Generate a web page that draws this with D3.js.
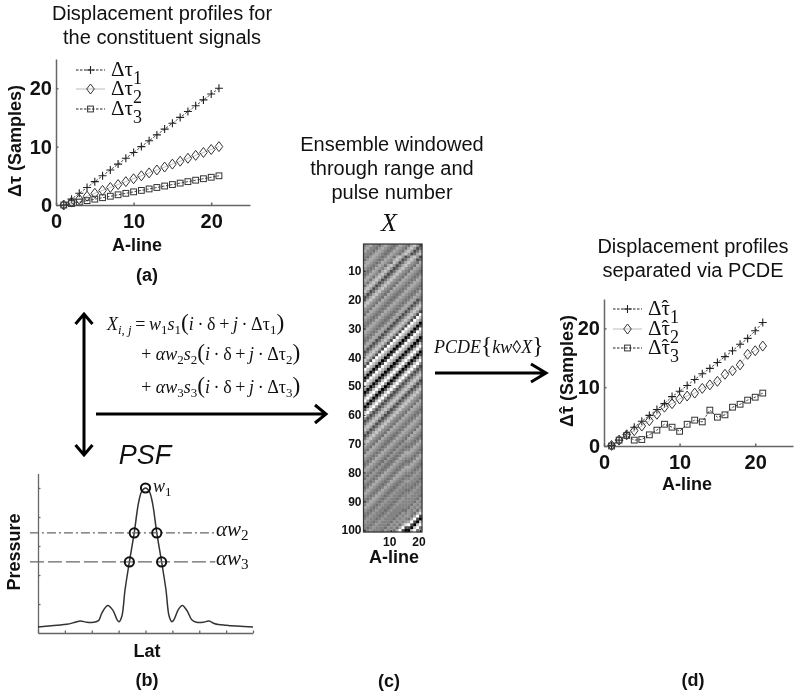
<!DOCTYPE html>
<html><head><meta charset="utf-8">
<style>html,body{margin:0;background:#fff}svg{display:block;filter:blur(.5px)}text{fill:#111}</style>
<script src="https://cdn.jsdelivr.net/npm/d3@7"></script></head><body>
<svg id="c" width="800" height="696"><defs><filter id="soft" x="-5%" y="-5%" width="110%" height="110%"><feGaussianBlur stdDeviation="0.45"/></filter></defs></svg>
<script>
// ---- data ----
const aLines=[1,2,3,4,5,6,7,8,9,10,11,12,13,14,15,16,17,18,19,20,21];
const trueTau1=[0,1,2,3,4,5,6,7,8,9,10,11,12,13,14,15,16,17,18,19,20];
const trueTau2=[0,.5,1,1.5,2,2.5,3,3.5,4,4.5,5,5.5,6,6.5,7,7.5,8,8.5,9,9.5,10];
const trueTau3=[0,.25,.5,.75,1,1.25,1.5,1.75,2,2.25,2.5,2.75,3,3.25,3.5,3.75,4,4.25,4.5,4.75,5];
const estTau1=[0.1,1,2,3.2,4.2,5.2,6.2,7.2,8.4,9.3,10.3,11.3,12.3,13.2,14.2,15.2,16.2,17.3,18.3,19.6,21];
const estTau2=[0.1,1,1.9,2.6,3.4,4.3,5.4,6.6,7.2,8,8.5,9,9.8,10.4,11,12.2,12.8,13.8,15.6,16.2,17];
const estTau3=[0,1,1.8,1,1.1,1.9,2.7,3.7,3.2,2.5,3.7,4.4,4.1,6.1,4.9,5.3,6.6,7.1,7.8,8.3,9];
const psfLat=[-4,-3.3,-2.93,-2.62,-2.43,-2.18,-1.94,-1.75,-1.62,-1.41,-1.21,-1.06,-.98,-.88,-.76,-.6,-.42,-.26,-.14,0,.14,.26,.42,.6,.76,.88,.98,1.06,1.22,1.37,1.56,1.72,1.9,2.15,2.36,2.58,3,4];
const psfP=[.041,.053,.06,.074,.083,.074,.074,.085,.138,.19,.156,.092,.078,.115,.3,.49,.69,.897,.977,1,.977,.897,.69,.49,.3,.115,.078,.092,.161,.19,.149,.092,.074,.074,.083,.064,.053,.041];
const psfRings=[[0,1],[-.42,.69],[.42,.69],[-.6,.49],[.6,.49]];
const levels=[.69,.49];
// 100 rows x 20 A-lines, grey level 0 (black) to 9 (white)
const ensemble=[
"45644356543465436752","56443565434654367523","64435654346543675236","44356543465436752367","43565434653675236752",
"35654346546752367523","56543465437523675436","65434653675236754365","54346546752367543654","43465367523675436543",
"34654675236754365434","46536752367543654346","65367523675436543465","53675236754365434654","36752367543654346543",
"67523675436543465434","75236754365434654346","52367543654346543465","23675436543465434654","36754365434654346523",
"67543654346543465236","75436543465434652367","54365434654346523675","43654346543465236752","36543465434652367529",
"65434654346523675297","54346543465236752975","43465434652367529750","34654346523675297502","46543465236752975029",
"65434652367529750297","54346523675297502975","43465236752975029750","34652367529750297502","46523675297502975027",
"65236752975029750279","52367529750297502795","23675297502975027950","36752975029750279502","67529750297502795027",
"75297502975027950279","52975029750279502795","29750297502795027952","97502975027950279523","75029750279502795236",
"50297502795027952367","02975027950279523675","29750279502795236752","97502795027952367523","75027950279523675236",
"50279502795236752367","02795027952367523675","27950279523675236754","79502795236752367543","95027952367523675436",
"50279523675236754365","02795236752367543654","27952367523675436543","79523675236754365434","95236752367543654346",
"52367523675436543465","23675236754365434654","36752367543654346543","67523675436543465436","75236754365434654365",
"52367543654346543654","23675436543465436543","36754365434654365434","67543654346543554346","75436543465435443465",
"54365434654354334654","43654346543543446543","36543465435434665434","65434654354346554346","54346543543465443465",
"43465435434654334654","34654354346543446543","46543543465434665434","65435434654346554345","54354346543465443454",
"43543465434654334544","35434654346543445443","54346543465434554434","43465434654345444345","34654346543454443454",
"46543465434544334544","65434654345443445444","54346543454434454443","43465434544345444435","34654345443454444354",
"46543454434544443545","65434544345444435454","54345443454443354536","43454434544435454368","34544345444354553692",
"45443454443545436920","54434544435454569207","44345444354536892079","43454443545369220793","34544435453692007935"];
const ySeries=[0,10,20], xTicks=[0,10,20], heatRows=[10,20,30,40,50,60,70,80,90,100], heatCols=[10,20];
const boxRows=[38.5,55], series=["1","2","3"];

const svg=d3.select("#c");
const sans="'Liberation Sans',Arial,sans-serif", serif="'Liberation Serif','DejaVu Serif',serif";
const label=(x,y,t,size=20,weight=400,rot=0,style="normal")=>svg.append("text")
  .attr("transform",`translate(${x},${y}) rotate(${rot})`).attr("text-anchor","middle")
  .attr("font-family",sans).attr("font-size",size).attr("font-weight",weight).attr("font-style",style).text(t);
const AX="#666";

function styleAxis(g){
  g.selectAll("path,line").attr("stroke",AX).attr("stroke-width",1.5);
  g.selectAll("text").attr("font-family",sans).attr("font-weight",700).attr("font-size",20).attr("fill","#111");
}
function marker(g,kind,x,y){
  if(kind===0){
    g.append("path").attr("d",`M${x-4},${y}H${x+4}M${x},${y-4}V${y+4}`).attr("fill","none").attr("stroke","#222").attr("stroke-width",1.1);
  }else if(kind===1){
    g.append("path").attr("d",`M${x},${y-5}L${x+3.8},${y}L${x},${y+5}L${x-3.8},${y}Z`).attr("fill","none").attr("stroke","#333").attr("stroke-width",1);
  }else{
    g.append("rect").attr("x",x-2.9).attr("y",y-2.9).attr("width",5.8).attr("height",5.8).attr("fill","none").attr("stroke","#333").attr("stroke-width",1);
  }
}
function lineChart(o){
  const x=d3.scaleLinear([0,25],o.xr), y=d3.scaleLinear([0,25],o.yr);
  const g=svg.append("g");
  const ax=g.append("g").attr("transform",`translate(0,${o.yr[0]})`)
    .call(d3.axisBottom(x).tickValues(xTicks).tickSizeInner(-2.5).tickSizeOuter(0).tickPadding(9));
  const ay=g.append("g").attr("transform",`translate(${o.xr[0]},0)`)
    .call(d3.axisLeft(y).tickValues(ySeries).tickSizeInner(-2.5).tickSizeOuter(0).tickPadding(4));
  styleAxis(ax);styleAxis(ay);
  const ln=d3.line().x((d,i)=>x(aLines[i])).y(d=>y(d));
  o.data.forEach((s,k)=>{
    g.append("path").attr("d",ln(s)).attr("fill","none")
      .attr("stroke",k===1?"#bbb":"#333").attr("stroke-width",.9).attr("stroke-dasharray",k===1?null:"2.5,1.5");
    s.forEach((v,i)=>marker(g,k,x(aLines[i]),y(v)));
    const ly=o.legY[k];
    g.append("line").attr("x1",o.legX).attr("x2",o.legX+29).attr("y1",ly).attr("y2",ly)
      .attr("stroke",k===1?"#bbb":"#222").attr("stroke-width",1).attr("stroke-dasharray",k===1?null:"2.5,1.5");
    marker(g,k,o.legX+14.5,ly);
    const t=g.append("text").attr("x",o.legX+35).attr("y",ly+6).attr("font-family",serif).attr("font-size",21);
    t.append("tspan").text("Δτ");
    if(o.hat) t.append("tspan").attr("dx",-8.5).attr("dy",0).text("ˆ");
    t.append("tspan").attr("dx",o.hat?1.5:0).attr("dy",8).attr("font-size",18).text(series[k]);
  });
  const yl=g.append("text").attr("transform",`translate(${o.ylabX},${o.ylabY}) rotate(-90)`).attr("text-anchor","middle")
    .attr("font-family",sans).attr("font-size",18).attr("font-weight",700);
  yl.append("tspan").text("Δτ");
  if(o.hat) yl.append("tspan").attr("dx",-7.5).text("ˆ");
  yl.append("tspan").attr("dx",o.hat?1.5:0).text(" (Samples)");
  label(o.xlabX,o.xlabY,"A-line",18,700);
}
lineChart({xr:[56,250],yr:[205,59],data:[trueTau1,trueTau2,trueTau3],legX:76,legY:[70,89,109],hat:false,ylabX:21,ylabY:141,xlabX:137,xlabY:251});
lineChart({xr:[604,793],yr:[446,299],data:[estTau1,estTau2,estTau3],legX:613,legY:[309,329,348],hat:true,ylabX:573,ylabY:371,xlabX:687,xlabY:490});

label(162,20,"Displacement profiles for");label(162,44,"the constituent signals");
label(693,253,"Displacement profiles");label(693,277,"separated via PCDE");
label(392,151,"Ensemble windowed");label(392,175,"through range and");label(392,199,"pulse number");
label(147,281,"(a)",18,700);label(147,686,"(b)",18,700);label(389,687,"(c)",18,700);label(693,686,"(d)",18,700);
svg.append("text").attr("x",389).attr("y",231).attr("text-anchor","middle").attr("font-family",serif)
  .attr("font-style","italic").attr("font-size",26).text("X");

// heat map
const hx=d3.scaleBand(d3.range(1,21),[363.5,422]), hy=d3.scaleBand(d3.range(1,101),[244,532]);
const grey=d3.scaleLinear([0,3,6,9],["#000","#707070","#aaa","#fff"]);
const hm=svg.append("g");
const cells=hm.append("g").attr("filter","url(#soft)");
ensemble.forEach((row,r)=>row.split("").forEach((v,c)=>{
  cells.append("rect").attr("x",hx(c+1)).attr("y",hy(r+1)).attr("width",hx.bandwidth()+.3).attr("height",hy.bandwidth()+.3).attr("fill",grey(+v));
}));
hm.append("rect").attr("x",363.5).attr("y",244).attr("width",58.5).attr("height",288).attr("fill","none").attr("stroke","#333").attr("stroke-width",1.2);
const hAxY=hm.append("g").attr("transform","translate(363.5,0)").call(d3.axisLeft(hy).tickValues(heatRows).tickSizeInner(-2).tickSizeOuter(0).tickPadding(2));
const hAxX=hm.append("g").attr("transform","translate(0,532)").call(d3.axisBottom(hx).tickValues(heatCols).tickSizeInner(-2).tickSizeOuter(0).tickPadding(5));
[hAxY,hAxX].forEach(g=>{g.select(".domain").remove();g.selectAll("line").attr("stroke","#222");
  g.selectAll("text").attr("font-family",sans).attr("font-weight",700).attr("font-size",12).attr("fill","#111");});
hAxX.selectAll("text").attr("dx",-1.5);
hm.append("rect").attr("x",363).attr("y",hy(boxRows[0])).attr("width",61).attr("height",hy(boxRows[1])-hy(boxRows[0]))
  .attr("fill","none").attr("stroke","#000").attr("stroke-width",4);
label(394,563,"A-line",18,700);

// PSF
const px=d3.scaleLinear([-4,4],[38,253]), py=d3.scaleLinear([0,1],[633,488]);
const pg=svg.append("g");
const pax=pg.append("g").attr("transform","translate(0,633)").call(d3.axisBottom(px).tickValues(d3.range(-4,5)).tickFormat("").tickSizeInner(-2.5).tickSizeOuter(0));
const pay=pg.append("g").attr("transform","translate(38,0)").call(d3.axisLeft(d3.scaleLinear([0,1.1],[633,473.5])).tickValues([.2,.4,.6,.8,1]).tickFormat("").tickSizeInner(-2.5).tickSizeOuter(0));
[pax,pay].forEach(g=>g.selectAll("path,line").attr("stroke",AX).attr("stroke-width",1.3));
pg.append("path").attr("d",d3.line().x((d,i)=>px(psfLat[i])).y(d=>py(d)).curve(d3.curveCatmullRom)(psfP)).attr("fill","none").attr("stroke","#333").attr("stroke-width",1.5);
levels.forEach((l,k)=>pg.append("line").attr("x1",px(-4.3)).attr("x2",px(2.6)).attr("y1",py(l)).attr("y2",py(l))
  .attr("stroke","#666").attr("stroke-width",1.2).attr("stroke-dasharray",k===0?"9,3,2,3":"14,4"));
psfRings.forEach(p=>{
  pg.append("circle").attr("cx",px(p[0])).attr("cy",py(p[1])).attr("r",4.6).attr("fill","none").attr("stroke","#111").attr("stroke-width",2);
});
label(147,657,"Lat",18,700);label(20,552,"Pressure",18,700,-90);
label(145,464,"PSF",27,400,0,"italic");
function math(x,y,parts,size=18){
  const t=svg.append("text").attr("x",x).attr("y",y).attr("font-family",serif).attr("font-size",size);
  let d=0;
  parts.forEach(p=>{ // [text, italic, sub, big]
    const s=t.append("tspan").text(p[0]).attr("font-style",p[1]?"italic":"normal");
    const nd=p[2]?4:0; s.attr("dy",nd-d); d=nd;
    if(p[2])s.attr("font-size",size*.72);
    if(p[3])s.attr("font-size",size*1.3);
  });
}
math(153,492,[["w",1],["1",0,1]],18);
math(216,536,[["αw",1],["2",0,1]],21);
math(216,565,[["αw",1],["3",0,1]],21);
const eqBody=n=>[["s",1],[n,0,1],["(",0,0,1],["i",1],["\u2009·\u2009δ\u2009+\u2009",0],["j",1],["\u2009·\u2009Δτ",0],[n,0,1],[")",0,0,1]];
math(107,330,[["X",1],["i, j",1,1],["\u2009=\u2009",0],["w",1],["1",0,1]].concat(eqBody("1")));
math(140,360,[["+\u2009αw",1],["2",0,1]].concat(eqBody("2")));
math(140,393,[["+\u2009αw",1],["3",0,1]].concat(eqBody("3")));
math(434,353,[["PCDE",1],["{",0,0,1],["kw",1],["◊",0],["X",1],["}",0,0,1]],18);

// arrows
const arrow=d=>svg.append("path").attr("d",d).attr("fill","none").attr("stroke","#000").attr("stroke-width",3);
arrow("M84,314V455M75.5,324L84,314L92.5,324M75.5,445L84,455L92.5,445");
arrow("M96,414H326M315,405L326,414L315,423");
arrow("M435,373H546M531,364L546,373L531,382");
</script></body></html>
